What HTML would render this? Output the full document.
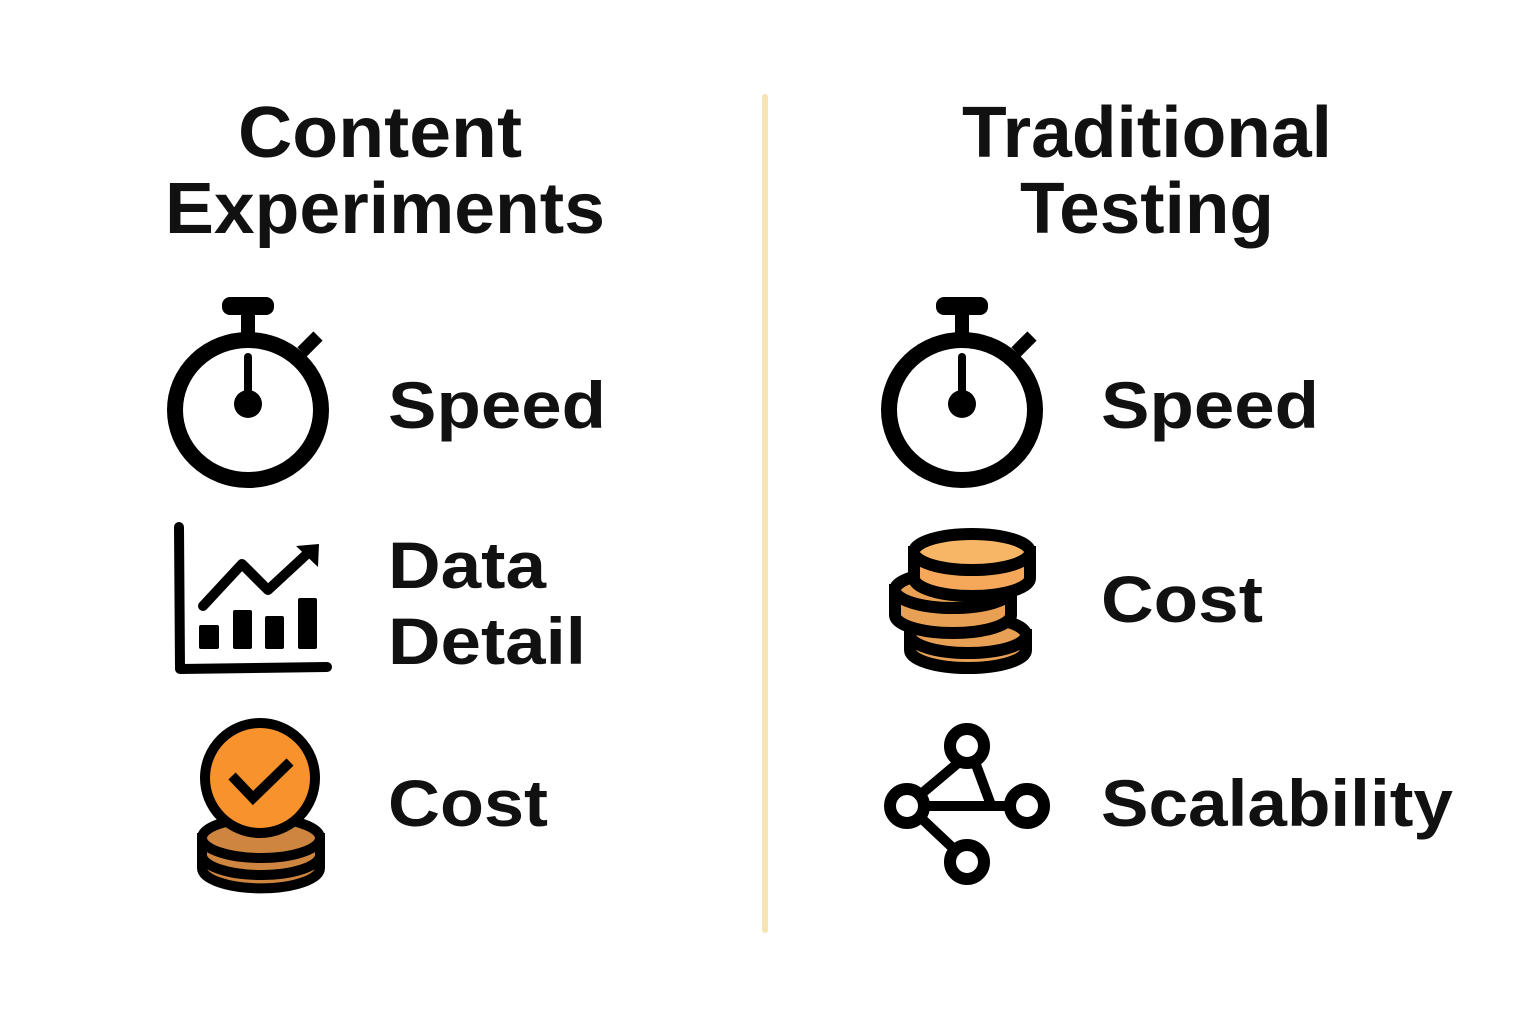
<!DOCTYPE html>
<html><head><meta charset="utf-8"><style>
html,body{margin:0;padding:0;background:#fff;}
svg{display:block}
text{font-family:"Liberation Sans",sans-serif;font-weight:bold;fill:#111;}
</style></head><body>
<svg width="1536" height="1024" viewBox="0 0 1536 1024" xmlns="http://www.w3.org/2000/svg">
<rect width="1536" height="1024" fill="#fff"/>
<line x1="765" y1="97" x2="765" y2="930" stroke="#f6e4b4" stroke-width="6" stroke-linecap="round"/>

<text x="238" y="157" font-size="72" textLength="284" lengthAdjust="spacingAndGlyphs">Content</text>
<text x="165" y="233" font-size="72" textLength="440" lengthAdjust="spacingAndGlyphs">Experiments</text>
<text x="962" y="157" font-size="72" textLength="370" lengthAdjust="spacingAndGlyphs">Traditional</text>
<text x="1020" y="233" font-size="72" textLength="254" lengthAdjust="spacingAndGlyphs">Testing</text>

<text x="388" y="428" font-size="66" textLength="218" lengthAdjust="spacingAndGlyphs">Speed</text>
<text x="388" y="588" font-size="66" textLength="158" lengthAdjust="spacingAndGlyphs">Data</text>
<text x="388" y="664" font-size="66" textLength="198" lengthAdjust="spacingAndGlyphs">Detail</text>
<text x="388" y="826" font-size="66" textLength="160" lengthAdjust="spacingAndGlyphs">Cost</text>
<text x="1101" y="428" font-size="66" textLength="218" lengthAdjust="spacingAndGlyphs">Speed</text>
<text x="1101" y="622" font-size="66" textLength="162" lengthAdjust="spacingAndGlyphs">Cost</text>
<text x="1101" y="826" font-size="66" textLength="352" lengthAdjust="spacingAndGlyphs">Scalability</text>

<g id="sw">
<rect x="222" y="297" width="52" height="18" rx="8" fill="#000"/>
<rect x="241" y="310" width="14" height="24" fill="#000"/>
<line x1="302" y1="352" x2="318" y2="336" stroke="#000" stroke-width="13"/>
<ellipse cx="248" cy="410" rx="73" ry="70" fill="none" stroke="#000" stroke-width="16"/>
<line x1="248" y1="357" x2="248" y2="398" stroke="#000" stroke-width="8" stroke-linecap="round"/>
<circle cx="248" cy="404" r="14" fill="#000"/>
</g>
<use href="#sw" x="714" y="0"/>

<g stroke="#000" stroke-linecap="round" stroke-linejoin="round" fill="none">
<polyline points="179,527 180,669 327,667" stroke-width="10"/>
<polyline points="203,606 242,564 268,590 308,553" stroke-width="10"/>
</g>
<polygon points="296,546 319,544 318,567" fill="#000"/>
<g fill="#000">
<rect x="199" y="625" width="20" height="24" rx="2"/>
<rect x="233" y="610" width="19" height="39" rx="2"/>
<rect x="265" y="616" width="19" height="33" rx="2"/>
<rect x="298" y="598" width="19" height="51" rx="2"/>
</g>

<g stroke="#000" stroke-width="10">
<path d="M202,838 L202,868 A58,20 0 0 0 320,868 L320,838 Z" fill="#cd853f"/>
<ellipse cx="261" cy="838" rx="59" ry="20" fill="#cd853f"/>
<path d="M202,855 A59,20 0 0 0 320,855" fill="none"/>
<circle cx="260" cy="778" r="55" fill="#f7922c"/>
<polyline points="232,776 253,798 290,762" fill="none" stroke-width="10"/>
</g>

<g stroke="#000" stroke-width="12" fill="#e8a055">
<path d="M910,635 L910,650 A58,18 0 0 0 1026,650 L1026,635 Z"/>
<ellipse cx="968" cy="635" rx="58" ry="18"/>
<path d="M895,590 L895,615 A58,18 0 0 0 1011,615 L1011,590 Z"/>
<ellipse cx="953" cy="590" rx="58" ry="18"/>
<path d="M914,552 L914,578 A58,18 0 0 0 1030,578 L1030,552 Z" fill="#f5a85a"/>
<ellipse cx="972" cy="552" rx="58" ry="18" fill="#f7b566"/>
</g>

<g stroke="#000" stroke-width="10" fill="none">
<line x1="958" y1="763" x2="920" y2="795"/>
<line x1="975" y1="762" x2="991" y2="805"/>
<line x1="925" y1="806" x2="1010" y2="806"/>
<line x1="920" y1="817" x2="955" y2="850"/>
</g>
<g stroke="#000" stroke-width="12" fill="#fff">
<circle cx="967" cy="746" r="17"/>
<circle cx="907" cy="806" r="17"/>
<circle cx="1027" cy="806" r="17"/>
<circle cx="967" cy="862" r="17"/>
</g>
</svg>
</body></html>
